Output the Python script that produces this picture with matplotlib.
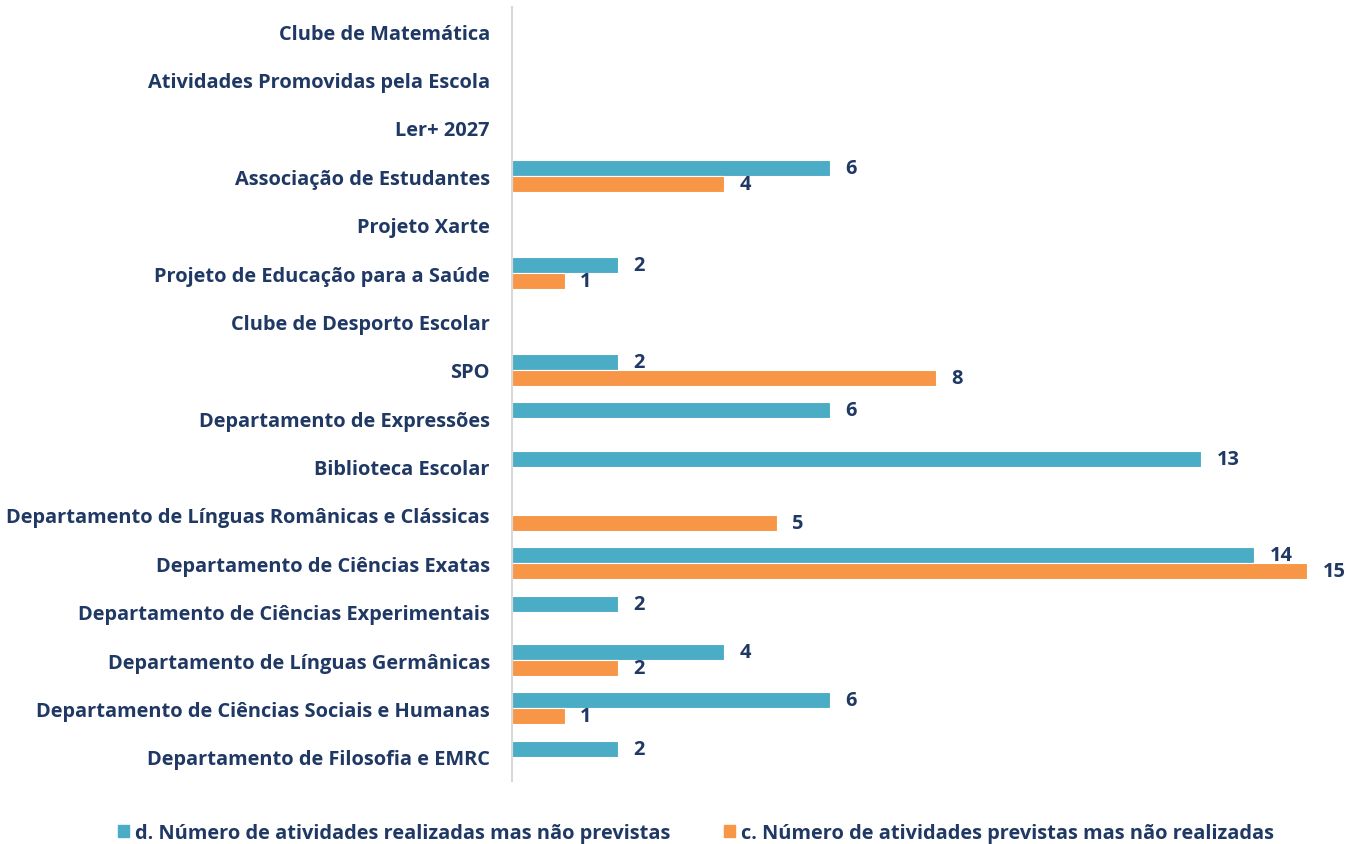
import matplotlib.pyplot as plt
import numpy as np
from matplotlib.patches import Patch

categories = [
    "Clube de Matemática",
    "Atividades Promovidas pela Escola",
    "Ler+ 2027",
    "Associação de Estudantes",
    "Projeto Xarte",
    "Projeto de Educação para a Saúde",
    "Clube de Desporto Escolar",
    "SPO",
    "Departamento de Expressões",
    "Biblioteca Escolar",
    "Departamento de Línguas Românicas e Clássicas",
    "Departamento de Ciências Exatas",
    "Departamento de Ciências Experimentais",
    "Departamento de Línguas Germânicas",
    "Departamento de Ciências Sociais e Humanas",
    "Departamento de Filosofia e EMRC",
]
realizadas_nao_previstas = [0, 0, 0, 6, 0, 2, 0, 2, 6, 13, 0, 14, 2, 4, 6, 2]
previstas_nao_realizadas = [0, 0, 0, 4, 0, 1, 0, 8, 0, 0, 5, 15, 0, 2, 1, 0]
legend_labels = ["d. Número de atividades realizadas mas não previstas",
                 "c. Número de atividades previstas mas não realizadas"]

teal = "#4BACC6"
orange = "#F79646"
navy = "#1F3864"
plt.rcParams['font.family'] = ['Open Sans', 'DejaVu Sans']
plt.rcParams['font.weight'] = 'bold'
fs = 14.4

fig = plt.figure(figsize=(13.52, 8.45), dpi=100)
ax = fig.add_axes([0.3787, 0.0746, 0.6113, 0.9159])

y = np.arange(len(categories))
h = 0.33
ax.barh(y - h / 2, realizadas_nao_previstas, height=h, color=teal,
        edgecolor="white", linewidth=0.8)
ax.barh(y + h / 2, previstas_nao_realizadas, height=h, color=orange,
        edgecolor="white", linewidth=0.8)

for i, v in enumerate(realizadas_nao_previstas):
    if v:
        ax.annotate(str(v), (v, i - h / 2), xytext=(11, 0), textcoords="offset points",
                    va="center", ha="left", fontsize=fs, color=navy, fontweight="bold")
for i, v in enumerate(previstas_nao_realizadas):
    if v:
        ax.annotate(str(v), (v, i + h / 2), xytext=(11, 0), textcoords="offset points",
                    va="center", ha="left", fontsize=fs, color=navy, fontweight="bold")

ax.set_ylim(len(categories) - 0.5, -0.5)
ax.set_xlim(0, (1340 - 512) / 53.13)
ax.set_yticks(y)
ax.set_yticklabels(categories, fontsize=fs, color=navy, fontweight="bold")
ax.tick_params(axis="y", length=0, pad=16)
ax.set_xticks([])
for s in ["top", "right", "bottom"]:
    ax.spines[s].set_visible(False)
ax.spines["left"].set_color("#D9D9D9")
ax.spines["left"].set_linewidth(1.5)

handles = [Patch(color=teal), Patch(color=orange)]
leg = fig.legend(handles, legend_labels, loc="lower center", bbox_to_anchor=(0.515, -0.02),
                 ncol=2, frameon=False, fontsize=fs, handlelength=0.55, handleheight=0.55,
                 handletextpad=0.3, columnspacing=2.7)
for t in leg.get_texts():
    t.set_color(navy)
    t.set_fontweight("bold")

fig.savefig("out.png", dpi=100)
